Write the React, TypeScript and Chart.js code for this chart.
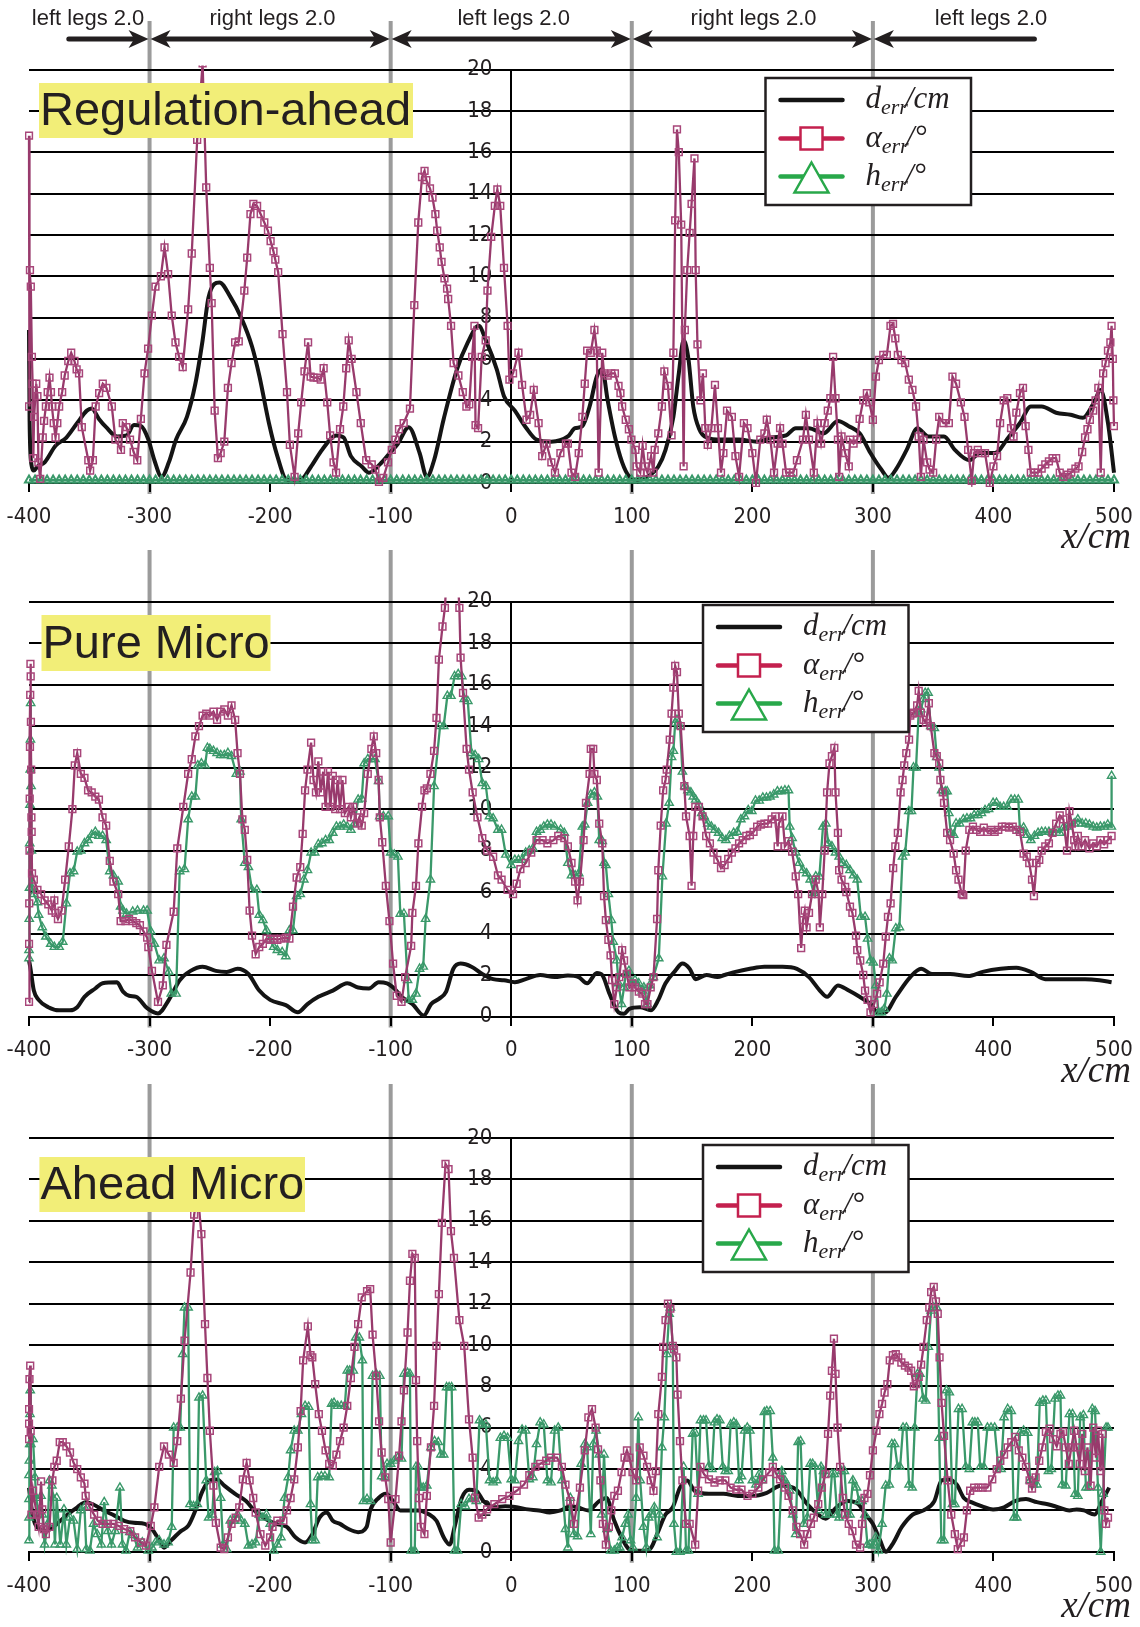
import React, { useEffect, useRef } from 'react';
import { Chart, registerables } from 'chart.js';

Chart.register(...registerables);

type P = [number, number];

// ---------- axes / annotations ----------
const X_MIN = -400;
const X_MAX = 500;
const X_STEP = 100;
const Y_MIN = 0;
const Y_MAX = 20;
const Y_STEP = 2;
const PHASE_BOUNDARIES = [-300, -100, 100, 300];
const PHASE_LABELS = ['left legs 2.0', 'right legs 2.0', 'left legs 2.0', 'right legs 2.0', 'left legs 2.0'];
const PHASE_LABEL_X = [-351, -198, 2, 201, 398];
const PHASE_ARROW_START = -367;
const PHASE_ARROW_END = 434;
const PANEL_TITLES = ['Regulation-ahead', 'Pure Micro', 'Ahead Micro'];
const X_UNIT = 'x/cm';

// ---------- Panel 1: Regulation-ahead ----------
const regD: P[] = [
  [-400, 7.4], [-399.5, 3.0], [-398, 0.9], [-396, 0.6], [-393, 0.8], [-387, 1.0], [-378, 1.8], [-369, 2.2], [-360, 2.9],
  [-352, 3.5], [-348, 3.6], [-342, 3.1], [-336, 2.7], [-327, 2.25], [-319, 2.3], [-313, 2.8], [-307, 2.75], [-301, 2.1],
  [-296, 1.1], [-290, 0.3], [-284, 1.0], [-278, 2.1], [-269, 3.2], [-262, 4.8], [-256, 6.9], [-251, 9.0], [-242, 9.7],
  [-233, 9.0], [-224, 8.0], [-215, 6.6], [-209, 5.2], [-201, 2.9], [-194, 1.3], [-186, 0.15], [-175, 0.15], [-166, 0.8],
  [-157, 1.6], [-145, 2.3], [-139, 2.2], [-133, 1.3], [-124, 0.8], [-118, 0.5], [-109, 0.9], [-100, 1.5], [-94, 1.9],
  [-85, 2.7], [-76, 1.45], [-70, 0.3], [-64, 1.1], [-56, 3.1], [-45, 5.5], [-36, 6.8], [-27, 7.6], [-21, 6.9], [-12, 5.5],
  [-6, 4.2], [3, 3.5], [12, 2.7], [21, 2.1], [33, 2.0], [47, 2.25], [53, 2.65], [59, 2.75], [65, 3.7], [71, 5.15],
  [75.5, 5.5], [80, 4.0], [86, 2.25], [92, 1.0], [98, 0.3], [104, 0.15], [113, 0.3], [122, 0.8], [128, 1.6], [134.5, 3.2],
  [139, 5.3], [143, 6.9], [147, 6.0], [151, 3.7], [156, 2.6], [162, 2.2], [174, 2.1], [189, 2.1], [204, 2.0], [216, 2.2],
  [228, 2.3], [236, 2.65], [247, 2.65], [259, 2.4], [271, 3.0], [280, 2.75], [289, 2.4], [298, 1.45], [307, 0.65],
  [313, 0.25], [319, 0.65], [328, 1.6], [337, 2.65], [346, 2.25], [359, 2.25], [368, 1.6], [380, 1.1], [389, 1.45],
  [401, 1.45], [413, 2.25], [422, 2.9], [431, 3.7], [440, 3.7], [452, 3.4], [464, 3.3], [474, 3.15], [483, 3.85],
  [489, 4.5], [495, 2.9], [500, 0.5],
];

const regA: P[] = [
  [-400, 16.8], [-400, 3.7], [-399.2, 10.3], [-398.5, 9.5], [-397.6, 6.1], [-397, 4.8], [-396.4, 1.2], [-395.8, 3.2],
  [-394, 4.8], [-393, 4.2], [-392.2, 1.0], [-390.7, 0.2], [-388.6, 2.2], [-387.5, 3.0], [-386, 3.7], [-384.5, 4.4],
  [-383, 5.1], [-381.8, 4.4], [-381, 3.7], [-379.5, 2.9], [-378, 2.2], [-376.5, 2.9], [-375, 3.7], [-372.5, 4.4],
  [-370.4, 5.2], [-367.4, 5.9], [-365, 6.3], [-362.3, 5.9], [-360.5, 5.5], [-358.5, 5.3], [-356.2, 2.7], [-350.8, 1.1],
  [-349.3, 0.6], [-347, 1.1], [-344.7, 3.7], [-341.8, 4.35], [-338.8, 4.8], [-335.8, 4.6], [-331.3, 3.7], [-328.3, 2.1],
  [-323.7, 1.6], [-322.2, 2.9], [-319.2, 2.7], [-316.2, 2.1], [-313.2, 1.5], [-310.2, 1.1], [-307.2, 3.1], [-304.2, 5.3],
  [-301.2, 6.5], [-298.1, 8.1], [-295.1, 9.5], [-290.6, 10.0], [-287.6, 11.4], [-284.6, 10.1], [-281.6, 8.1],
  [-278.5, 6.8], [-275.5, 6.1], [-272.5, 5.6], [-268, 8.4], [-265, 11.1], [-260.5, 16.6], [-256, 20.3], [-253, 14.3],
  [-250, 10.4], [-248.5, 8.7], [-246, 3.5], [-243.3, 1.2], [-241, 1.45], [-238, 2.0], [-235, 4.6], [-232, 5.8],
  [-229, 6.8], [-226, 6.85], [-221.4, 9.3], [-219, 10.9], [-216.3, 13.0], [-213.9, 13.5], [-210.8, 13.4], [-207.8, 13.0],
  [-204.8, 12.6], [-201.8, 12.2], [-199.6, 11.7], [-197.2, 11.2], [-195.7, 10.8], [-193.3, 10.2], [-189.7, 7.2],
  [-186, 4.4], [-183.6, 1.85], [-179.7, 0.3], [-176.7, 2.4], [-174.2, 3.9], [-171.5, 5.4], [-168.5, 6.8], [-166.4, 5.15],
  [-164, 5.1], [-161, 5.1], [-158, 5.0], [-155.6, 5.55], [-152.6, 3.9], [-150.2, 2.3], [-147.4, 1.0], [-145.3, 0.5],
  [-142, 2.6], [-139.3, 3.7], [-136.9, 5.55], [-134.8, 6.9], [-132.4, 6.0], [-128.4, 4.4], [-124.8, 2.9], [-120.3, 1.1],
  [-115.7, 0.9], [-112.7, 0.65], [-109.7, 0.05], [-106.1, 0.25], [-102.2, 1.0], [-99.1, 1.6], [-96.1, 2.1], [-93.1, 2.6],
  [-89.2, 2.9], [-84, 3.6], [-80.4, 8.6], [-77.1, 12.6], [-74, 14.8], [-71.9, 15.1], [-70.4, 14.65], [-67.4, 14.25],
  [-65.3, 13.8], [-62.9, 13.0], [-61.4, 12.2], [-59.3, 11.4], [-57.8, 10.7], [-55.4, 9.9], [-53.2, 9.4], [-52.3, 8.9],
  [-49.9, 7.6], [-47.8, 5.8], [-43.8, 5.2], [-40.2, 4.4], [-37.2, 3.7], [-34.8, 3.8], [-32.4, 6.1], [-30.5, 7.6],
  [-29.6, 2.8], [-27.5, 2.65], [-24.5, 6.1], [-21.2, 6.9], [-19.7, 9.3], [-16.6, 11.9], [-13.6, 13.4], [-11.5, 14.2],
  [-9.1, 13.4], [-6, 10.4], [-3, 7.6], [-1.5, 5.0], [1.5, 5.3], [6, 6.3], [9, 4.75], [12.7, 3.06], [15.7, 3.3], [18.7, 4.5],
  [22.7, 2.9], [25.7, 1.3], [29.3, 1.9], [33.3, 1.0], [36.3, 0.5], [40.8, 1.45], [45.4, 1.9], [47, 1.9], [50, 0.5],
  [53, 0.3], [56, 1.45], [59, 3.2], [61, 4.8], [63, 6.4], [66, 6.3], [69, 7.4], [71, 6.4], [72.5, 0.5], [75.5, 6.3],
  [77, 5.3], [80, 5.2], [83, 5.3], [86, 5.3], [89, 4.7], [90.6, 4.35], [92, 3.7], [95, 3.06], [97.6, 2.6], [99.7, 2.1],
  [103, 1.6], [104, 0.8], [107, 0.5], [109, 1.8], [111, 0.8], [113, 0.5], [116, 1.3], [118, 0.5], [119, 1.6], [122, 2.4],
  [125, 3.7], [127, 5.4], [130, 4.7], [133, 2.3], [134.5, 6.3], [136, 12.7], [137.5, 17.1], [139, 16.0], [141, 12.5],
  [143, 0.8], [144, 7.4], [146, 10.3], [148, 12.1], [149.6, 13.5], [152, 15.7], [153, 10.3], [154.5, 6.7], [157, 4.0],
  [159, 5.3], [161, 2.65], [163, 1.85], [166, 2.65], [169, 4.75], [171.5, 2.65], [174, 0.5], [176, 1.45], [179, 3.5],
  [183, 3.2], [186, 1.3], [189, 0.3], [193, 2.9], [196, 2.65], [200, 1.45], [203, 0.0], [206.6, 2.1], [210, 2.4],
  [212, 3.06], [215, 2.1], [218, 0.5], [221, 1.9], [223, 2.65], [225, 1.9], [228, 0.5], [231, 0.5], [234, 0.5], [237, 1.1],
  [242, 2.1], [244.4, 3.3], [247, 2.1], [251, 0.5], [254, 2.9], [257, 1.9], [260, 2.9], [262.6, 3.5], [264.7, 4.1],
  [267, 6.1], [269, 4.1], [271, 2.1], [272, 0.3], [274, 2.25], [277, 1.45], [280, 0.8], [281, 2.1], [284, 1.9], [287, 2.1],
  [289, 3.1], [292, 4.0], [295, 4.35], [297, 3.9], [300, 3.06], [302.5, 5.15], [305, 5.95], [308.6, 6.2], [311.6, 6.2],
  [314.6, 7.6], [316.7, 7.7], [318.6, 7.0], [320.7, 6.2], [323.7, 5.95], [326.8, 5.8], [329.8, 5.0], [332.8, 4.5],
  [335.8, 3.7], [338, 2.25], [339.8, 0.3], [342, 2.1], [345, 1.0], [347, 0.65], [350, 0.5], [352.5, 2.1], [355, 3.2],
  [358.5, 2.9], [363, 2.9], [366, 5.15], [369, 4.8], [373, 3.9], [376, 3.2], [379, 1.6], [382, 0.1], [384, 1.45],
  [387, 1.6], [390, 1.45], [393, 1.45], [397, 0], [400, 0.8], [403, 1.3], [405.5, 2.9], [408.5, 4.0], [411.5, 4.1],
  [414.6, 2.65], [416.7, 2.25], [419, 3.4], [422, 4.35], [424.5, 4.6], [426.7, 2.75], [429, 1.6], [431, 0.5], [434, 0.5],
  [437, 0.5], [440, 0.7], [443, 0.9], [446, 1.05], [449, 1.2], [452, 1.2], [455, 0.5], [458, 0.3], [461.5, 0.4],
  [464.5, 0.5], [468, 0.7], [470.6, 0.8], [473.6, 1.5], [476, 2.2], [478, 2.6], [480, 3.06], [482.7, 3.5], [484.7, 4.0],
  [487, 4.6], [489, 0.5], [491, 5.3], [493, 5.8], [495, 6.4], [497, 6.8], [498, 7.6], [499, 6.0], [499.5, 4.0], [500, 2.75],
];

// h_err stays on the zero line in this run: sample positions and its level
const regHX: number[] = [
  -400, -395, -390, -385, -380, -375, -370, -365, -360, -355, -350, -345, -340, -335, -330, -325, -320, -315, -310, -305,
  -300, -295, -290, -285, -280, -275, -270, -265, -260, -255, -250, -245, -240, -235, -230, -225, -220, -215, -210, -205,
  -200, -195, -190, -185, -180, -175, -170, -165, -160, -155, -150, -145, -140, -135, -130, -125, -120, -115, -110, -105,
  -100, -95, -90, -85, -80, -75, -70, -65, -60, -55, -50, -45, -40, -35, -30, -25, -20, -15, -10, -5,
  0, 5, 10, 15, 20, 25, 30, 35, 40, 45, 50, 55, 60, 65, 70, 75, 80, 85, 90, 95,
  100, 105, 110, 115, 120, 125, 130, 135, 140, 145, 150, 155, 160, 165, 170, 175, 180, 185, 190, 195,
  200, 205, 210, 215, 220, 225, 230, 235, 240, 245, 250, 255, 260, 265, 270, 275, 280, 285, 290, 295,
  300, 305, 310, 315, 320, 325, 330, 335, 340, 345, 350, 355, 360, 365, 370, 375, 380, 385, 390, 395,
  400, 405, 410, 415, 420, 425, 430, 435, 440, 445, 450, 455, 460, 465, 470, 475, 480, 485, 490, 495, 500,
];
const REG_H_LEVEL = 0.14;

// ---------- Panel 2: Pure Micro ----------
const pureD: P[] = [
  [-400, 2.7], [-399, 2.4], [-396, 1.25], [-392, 0.8], [-384, 0.45], [-375, 0.3], [-366, 0.3], [-360, 0.45], [-354, 0.95],
  [-345, 1.35], [-339, 1.6], [-327, 1.65], [-322, 1.2], [-317, 1.0], [-311, 0.95], [-302, 0.4], [-293, 0.15], [-284, 0.8],
  [-275, 1.75], [-266, 2.2], [-256, 2.4], [-245, 2.2], [-236, 2.15], [-227, 2.3], [-218, 2.05], [-209, 1.25], [-200, 0.8],
  [-187, 0.55], [-177, 0.2], [-169, 0.6], [-160, 0.95], [-148, 1.25], [-136, 1.6], [-127, 1.4], [-118, 1.35], [-110, 1.65],
  [-103, 1.6], [-97, 1.35], [-91, 0.95], [-82, 0.6], [-72.5, 0.05], [-66.5, 0.6], [-60, 0.85], [-54, 1.2], [-48, 2.3],
  [-42, 2.55], [-33, 2.4], [-24, 2.05], [-15, 1.8], [-6, 1.75], [3, 1.65], [12, 1.8], [24, 2.0], [36, 1.9], [47, 1.98],
  [56, 1.9], [63, 1.6], [71, 2.1], [75.5, 2.0], [81.5, 1.1], [89, 0.2], [93.6, 0.13], [98, 0.37], [107, 0.45], [116, 0.3],
  [122, 0.8], [128, 1.6], [136, 2.2], [142, 2.55], [148, 2.3], [153, 1.8], [162, 2.0], [171, 1.9], [177, 2.0], [186, 2.15],
  [198, 2.3], [210, 2.4], [225, 2.4], [237, 2.3], [247, 1.9], [256, 1.25], [262, 0.95], [271, 1.5], [280, 1.25],
  [289, 0.95], [298, 0.6], [304, 0.2], [310, 0.2], [319, 0.95], [331, 1.9], [340, 2.3], [349, 2.05], [364, 2.05],
  [379, 1.95], [391, 2.15], [406, 2.3], [419, 2.35], [431, 2.15], [443, 1.8], [458, 1.8], [476, 1.8], [488, 1.75],
  [498, 1.65],
];

const pureA: P[] = [
  [-400, 0.7], [-400, 3.5], [-399.8, 5.45], [-399.6, 8.0], [-399.4, 10.5], [-399.2, 13.0], [-399, 15.5], [-398.8, 17.0],
  [-398.6, 16.4], [-398.4, 14.2], [-398.2, 11.9], [-398, 9.6], [-397.8, 8.9], [-397.5, 6.9], [-396, 6.6], [-393, 6.1],
  [-390, 5.9], [-387, 5.6], [-384, 5.4], [-381, 5.1], [-379, 5.6], [-378, 5.0], [-376, 4.7], [-373, 5.1], [-370, 6.6],
  [-367, 8.2], [-364, 10.0], [-362, 12.1], [-360, 12.7], [-357, 11.7], [-354, 11.5], [-351, 10.9], [-348, 10.8],
  [-345, 10.6], [-342, 10.45], [-339, 9.6], [-336, 9.2], [-333, 7.5], [-330, 6.5], [-326, 5.9], [-324, 4.6], [-320, 4.6],
  [-317, 4.7], [-314, 4.6], [-311, 4.5], [-308, 4.4], [-305, 4.1], [-302, 3.8], [-301, 3.35], [-298, 2.2], [-293, 0.7],
  [-289, 1.5], [-286, 3.45], [-280, 5.05], [-277, 8.1], [-272, 10.1], [-268, 11.7], [-265, 12.4], [-262, 13.5],
  [-259, 14.0], [-256, 14.5], [-253, 14.6], [-250, 14.5], [-247, 14.7], [-244, 14.3], [-241, 14.7], [-238, 14.8],
  [-235, 14.5], [-232, 15.0], [-229, 14.3], [-227, 12.7], [-225, 11.7], [-223, 9.5], [-221, 9.0], [-219, 7.55],
  [-217, 5.1], [-215, 3.9], [-212, 3.0], [-209, 3.35], [-206, 3.5], [-203, 3.75], [-200, 3.7], [-197, 3.75], [-194, 3.7],
  [-191, 3.75], [-187, 3.8], [-184, 3.75], [-181, 5.3], [-178, 6.7], [-175, 7.2], [-173, 8.8], [-171, 10.9], [-169, 11.9],
  [-166, 13.2], [-164, 11.4], [-162, 10.8], [-160, 12.3], [-158, 10.8], [-156, 11.8], [-154, 10.1], [-152, 11.8],
  [-150, 10.1], [-148, 11.6], [-146, 10.0], [-144, 11.4], [-142, 10.0], [-140, 11.4], [-138, 9.8], [-135, 10.1],
  [-133, 9.6], [-131, 10.1], [-128, 9.3], [-126, 9.6], [-124, 9.2], [-122, 9.8], [-119, 11.7], [-116, 12.9], [-114, 13.5],
  [-112, 12.7], [-110, 11.4], [-109, 9.6], [-107, 8.4], [-104, 6.3], [-101, 4.6], [-98, 2.55], [-95, 1.0], [-91, 0.7],
  [-88, 1.9], [-83, 3.4], [-82, 5.0], [-79, 6.3], [-77, 8.35], [-74, 10.1], [-72, 10.9], [-70, 11.0], [-67, 11.7],
  [-64, 12.8], [-62, 14.4], [-60, 17.2], [-57, 18.8], [-55, 19.7], [-49, 26.0], [-43, 19.7], [-42, 17.3], [-40, 15.6],
  [-37, 12.9], [-35, 11.9], [-32, 10.8], [-28, 9.6], [-24, 8.6], [-20, 8.0], [-15, 7.7], [-11, 6.8], [-8, 6.6], [-3, 6.1],
  [1.5, 5.9], [4.5, 6.4], [7.6, 7.1], [12, 7.4], [16.6, 7.9], [21, 8.5], [26, 8.5], [30, 8.35], [35, 8.5], [39, 8.7],
  [44, 8.6], [47, 8.2], [50, 7.4], [53, 6.5], [55, 5.6], [57, 6.5], [60, 8.5], [62, 10.3], [65, 11.7], [66, 12.9],
  [68, 12.9], [69, 11.7], [71, 11.4], [73, 9.3], [75.5, 8.35], [77, 5.8], [78.5, 4.65], [80.6, 3.7], [82.4, 2.95],
  [83.7, 1.75], [85.5, 0.6], [87.6, 1.4], [89.7, 1.9], [92, 3.2], [93.6, 2.7], [95.8, 2.05], [98, 1.4], [100.6, 1.6],
  [102.7, 1.4], [105.8, 1.2], [108.8, 1.1], [111, 0.6], [113, 0.6], [115.7, 1.4], [118, 1.9], [121, 4.7], [122, 7.05],
  [124, 9.2], [126, 10.9], [128, 11.4], [129, 11.9], [131.5, 13.35], [133, 14.6], [134.5, 15.85], [136, 16.9],
  [137.5, 16.6], [139, 14.6], [140.6, 14.0], [143.6, 11.1], [145, 9.65], [148, 8.7], [149.6, 6.3], [151, 8.7],
  [152.7, 10.1], [155.7, 10.1], [158.7, 9.65], [161.7, 8.7], [164.8, 8.35], [167.8, 7.9], [171, 7.55], [174, 7.15],
  [177, 7.3], [180, 7.6], [183, 7.9], [186, 8.1], [189, 8.35], [192, 8.5], [195, 8.7], [198, 8.75], [201, 8.9],
  [204, 9.15], [207, 9.25], [210, 9.3], [213, 9.3], [216, 9.5], [219, 9.65], [221, 8.2], [222, 9.3], [225, 9.65],
  [227, 8.2], [230, 8.45], [233, 7.95], [236, 6.75], [238, 5.9], [240.5, 3.3], [242, 4.65], [243.5, 5.1], [245, 4.3],
  [247, 5.0], [249.5, 5.9], [252.6, 6.6], [255, 5.9], [256, 4.3], [258, 5.9], [260, 8.0], [262, 10.8], [264, 12.2],
  [266, 12.55], [268, 12.95], [269, 10.8], [271, 8.85], [272, 7.05], [274, 6.6], [277, 6.25], [278, 6.0], [281, 5.3],
  [283, 5.0], [286, 3.9], [287, 3.2], [289.5, 2.7], [292, 2.0], [293.5, 1.25], [295.6, 0.8], [298, 0.2], [301, 0.6],
  [303.5, 1.1], [305.6, 1.65], [308.6, 2.55], [310.7, 3.85], [312.5, 4.8], [314.7, 5.45], [316.8, 7.15], [318.6, 8.2],
  [320.7, 8.85], [323, 10.8], [324.6, 11.4], [326, 12.1], [327.7, 12.7], [330, 13.35], [331, 14.5], [333, 14.6],
  [334, 14.65], [336.7, 15.0], [338, 15.7], [339.8, 14.65], [342, 14.3], [344, 14.15], [346.4, 15.1], [348, 14.0],
  [351, 12.7], [353, 12.55], [355, 12.2], [356, 11.4], [358, 10.8], [359, 10.3], [361.6, 8.85], [364, 8.5], [367, 7.85],
  [369, 7.05], [371, 6.6], [373.7, 5.9], [375, 5.85], [377, 8.0], [380, 9.0], [383, 9.15], [386, 9.0], [389, 8.9],
  [392, 9.1], [395, 8.9], [398, 9.0], [401, 8.9], [404, 9.0], [407, 9.15], [410, 9.15], [413, 9.1], [416, 9.15],
  [419, 9.0], [422, 8.9], [425, 7.85], [427.6, 7.7], [429.7, 7.4], [432, 6.6], [433.6, 5.8], [435.7, 7.4], [438, 7.55],
  [440, 8.0], [443, 8.2], [446, 8.35], [449, 8.85], [452, 9.3], [455, 9.7], [458, 9.5], [461, 8.0], [463, 9.9],
  [465, 9.3], [467, 8.5], [468, 8.2], [470, 8.7], [473, 8.2], [476, 8.5], [479.6, 8.1], [482.7, 8.35], [485.7, 8.2],
  [488.7, 8.5], [491.8, 8.3], [494.8, 8.5], [498, 8.7],
];

const pureH: P[] = [
  [-400, 2.8], [-400, 3.2], [-399.8, 4.7], [-399.6, 6.2], [-399.4, 8.35], [-399.2, 10.2], [-399, 11.9], [-398.8, 13.35],
  [-398.6, 15.1], [-398.3, 11.1], [-398, 8.0], [-397.5, 6.2], [-396, 5.9], [-393, 5.5], [-392, 4.9], [-389, 4.3],
  [-386, 3.85], [-382, 3.5], [-379, 3.35], [-375, 3.35], [-372, 3.6], [-369, 5.45], [-366, 6.9], [-363, 7.0], [-360, 7.95],
  [-357, 8.0], [-354, 8.35], [-351, 8.5], [-348, 8.75], [-345, 8.9], [-342, 8.7], [-339, 8.7], [-336, 8.5], [-333, 7.0],
  [-330, 6.8], [-326, 6.5], [-324, 5.3], [-322, 5.1], [-319, 4.95], [-314, 5.05], [-310, 5.1], [-305, 5.1], [-302, 5.1],
  [-299, 4.1], [-296, 3.5], [-292, 2.7], [-288, 2.8], [-284, 2.15], [-282, 1.1], [-278, 1.1], [-275, 7.0], [-271, 7.1],
  [-268, 9.5], [-265, 10.6], [-262, 10.6], [-260, 12.1], [-257, 12.2], [-254, 12.1], [-252, 12.95], [-250, 12.9],
  [-247, 12.8], [-244, 12.7], [-241, 12.6], [-238, 12.6], [-235, 12.7], [-232, 12.55], [-228, 11.7], [-225, 11.8],
  [-224, 9.5], [-221, 7.4], [-218, 7.2], [-215, 6.1], [-211, 6.1], [-209, 4.9], [-206, 4.65], [-203, 4.15], [-200, 3.7],
  [-197, 3.35], [-194, 3.2], [-190, 3.1], [-187, 2.9], [-184, 4.15], [-181, 4.15], [-178, 5.8], [-175, 5.9], [-172, 6.6],
  [-169, 7.05], [-166, 7.9], [-163, 7.9], [-160, 8.3], [-157, 8.35], [-154, 8.5], [-151, 8.5], [-148, 8.85], [-145, 9.15],
  [-142, 9.15], [-139, 9.25], [-136, 9.15], [-133, 9.0], [-130, 9.3], [-127, 10.45], [-124, 10.5], [-122, 12.2],
  [-119, 12.4], [-116, 12.4], [-113, 12.4], [-110, 11.35], [-109, 9.65], [-106, 9.65], [-102, 9.65], [-100, 7.9],
  [-97, 7.8], [-94, 7.7], [-92, 4.95], [-89, 4.95], [-86, 1.75], [-85, 0.8], [-82, 0.8], [-79, 1.1], [-76, 2.3],
  [-73, 2.4], [-71, 4.7], [-67, 6.6], [-64, 11.1], [-59, 14.0], [-56, 14.0], [-53, 15.45], [-50, 15.45], [-47, 16.4],
  [-44, 16.5], [-41, 16.4], [-39, 15.3], [-36, 15.2], [-33, 12.7], [-30, 12.6], [-27, 12.4], [-24, 11.25], [-21, 11.1],
  [-18, 9.65], [-15, 9.55], [-11, 9.0], [-8, 9.0], [-4.5, 7.8], [0, 7.3], [3, 7.55], [6, 7.55], [9, 7.55], [12, 7.9],
  [15, 8.0], [18, 8.1], [21, 8.9], [24, 9.0], [27, 9.15], [30, 9.25], [33, 9.25], [36, 9.15], [41, 9.0], [44, 8.85],
  [47, 7.4], [50, 6.8], [53, 6.8], [56, 6.9], [59, 9.15], [61, 9.25], [63.4, 10.3], [66, 10.7], [69, 10.8], [71.5, 10.6],
  [73, 8.5], [75.5, 8.45], [77, 7.4], [78.5, 7.3], [80.6, 5.9], [83, 4.65], [84.6, 3.6], [87.6, 2.7], [89, 1.6],
  [91.5, 0.6], [93.6, 1.4], [95, 2.05], [97.6, 2.2], [99.7, 1.6], [102.7, 1.75], [105.8, 1.6], [108.8, 1.25], [110, 1.4],
  [112.7, 0.6], [114.8, 1.5], [117.9, 1.9], [122.4, 2.8], [125.4, 6.75], [128.5, 9.3], [131, 10.3], [133, 12.5],
  [134.5, 12.8], [136, 14.15], [137.5, 14.3], [140, 14.0], [142, 11.8], [144, 11.1], [146.6, 10.9], [149, 10.8],
  [151, 10.6], [153, 10.45], [155.7, 10.2], [158, 9.8], [160, 9.65], [163, 9.3], [166, 9.15], [169, 9.0], [172, 8.85],
  [175, 8.6], [178, 8.5], [181, 8.7], [184.5, 8.85], [187.5, 8.9], [190.5, 9.5], [193.5, 9.65], [196.6, 9.95],
  [199.6, 9.9], [202.6, 10.4], [205.7, 10.4], [208.7, 10.55], [211.7, 10.55], [214.7, 10.6], [217.8, 10.7],
  [220.8, 10.85], [224, 10.85], [227, 10.9], [230, 10.9], [231, 9.15], [233, 8.6], [236, 7.9], [239, 7.4], [242, 7.05],
  [245, 6.9], [248, 6.6], [251, 5.95], [252.6, 6.75], [255.6, 6.75], [258.6, 9.15], [261, 9.3], [263, 8.35], [266, 8.2],
  [269, 7.9], [272, 7.7], [275, 7.4], [278, 7.3], [281, 7.05], [284, 6.8], [287, 6.6], [290, 4.8], [293.5, 4.8],
  [295.6, 3.75], [298, 2.7], [300.4, 2.6], [302.5, 1.5], [304.7, 0.2], [307, 0.2], [309.5, 0.37], [311.6, 1.1],
  [313.7, 2.8], [316, 2.7], [319, 4.25], [322, 4.3], [324.6, 7.7], [326.8, 7.9], [329.8, 9.9], [332, 9.9], [333.7, 12.0],
  [335.8, 12.0], [338, 14.7], [339.8, 14.8], [342, 15.3], [343.4, 15.6], [345.8, 15.6], [348, 14.0], [351, 13.9],
  [353, 12.5], [355, 12.0], [357, 10.9], [360, 10.85], [361.6, 10.85], [363, 9.8], [364.6, 8.85], [367, 8.75], [369, 9.3],
  [372, 9.3], [375, 9.5], [378, 9.55], [381, 9.55], [384, 9.7], [387, 9.7], [390, 9.8], [393, 9.95], [396, 10.0],
  [399.7, 10.3], [402.5, 10.3], [405.5, 10.1], [408.5, 10.1], [411.5, 10.1], [414.6, 10.45], [417.6, 10.45],
  [420.6, 10.45], [422, 9.0], [425, 9.1], [428, 8.75], [431, 8.5], [434, 8.7], [437, 8.85], [440, 8.9], [443, 8.9],
  [446, 8.9], [449, 8.85], [452, 9.0], [455, 8.85], [458, 9.1], [461, 9.15], [464, 9.3], [467, 9.3], [470, 9.5],
  [473.6, 9.3], [476.6, 9.3], [479.6, 9.25], [482.7, 9.15], [485.7, 9.1], [488.7, 9.15], [491.8, 9.15], [494.8, 9.25],
  [497.8, 9.15], [498, 11.6],
];

// ---------- Panel 3: Ahead Micro ----------
const aheadD: P[] = [
  [-400, 3.1], [-398, 2.15], [-395, 1.35], [-391, 1.1], [-386, 1.0], [-380, 1.2], [-374, 1.5], [-368, 1.8], [-360, 2.15],
  [-353, 2.4], [-347, 2.3], [-338, 2.0], [-329, 1.75], [-321, 1.5], [-313, 1.4], [-304, 1.35], [-298, 1.1], [-292, 0.55],
  [-288, 0.2], [-282, 0.55], [-274, 1.0], [-268, 1.25], [-262, 2.0], [-256, 2.95], [-250, 3.45], [-244, 3.5],
  [-238, 3.2], [-229, 2.8], [-220, 2.45], [-213, 2.0], [-204, 1.6], [-195, 1.35], [-186, 1.2], [-179, 0.7], [-171, 0.45],
  [-165, 0.85], [-159, 1.65], [-153, 1.9], [-148, 1.5], [-142, 1.35], [-135, 1.1], [-127, 0.95], [-120, 1.2],
  [-117, 2.0], [-110, 2.6], [-104, 2.8], [-98, 2.45], [-92, 2.0], [-86, 2.0], [-77, 2.0], [-68, 1.8], [-62, 1.5],
  [-56, 0.7], [-51, 0.35], [-47, 1.2], [-41, 2.6], [-35, 3.0], [-29, 2.95], [-23, 2.45], [-14, 2.15], [-5, 2.2],
  [4.5, 2.15], [14, 2.05], [23, 2.0], [32, 1.9], [41, 2.0], [49, 2.2], [55, 2.15], [64, 2.0], [73, 2.45], [79, 2.6],
  [85.5, 1.5], [91.5, 0.7], [97.6, 0.13], [103.6, 0.05], [110, 0.05], [116, 0.2], [122, 1.0], [128, 1.8], [134, 2.15],
  [140, 3.1], [146, 3.45], [152, 2.95], [164, 2.8], [176, 2.8], [188, 2.7], [200, 2.7], [212, 2.85], [224, 3.2],
  [236.5, 3.0], [245.6, 2.3], [254.7, 1.8], [260.7, 1.6], [269.8, 2.15], [279, 2.45], [288, 2.3], [294, 1.8], [300, 1.35],
  [306, 0.55], [310.6, 0], [316.6, 0.4], [324, 1.2], [333, 1.8], [342, 2.0], [351, 2.45], [357, 3.45], [363, 3.5],
  [369.5, 3.25], [375.5, 2.6], [381.6, 2.4], [390.6, 2.2], [399.7, 2.05], [408.8, 2.15], [417.8, 2.45], [427, 2.55],
  [436, 2.4], [445, 2.3], [454, 2.15], [463, 2.0], [469, 2.05], [475, 2.0], [484, 1.8], [490, 2.45], [496, 3.1],
];

const aheadA: P[] = [
  [-400, 5.45], [-400, 6.2], [-400, 6.9], [-399.6, 8.35], [-399, 9.0], [-398.6, 5.85], [-398, 1.8], [-396.6, 2.95],
  [-393.6, 1.8], [-392, 1.2], [-390, 3.4], [-389, 2.05], [-387.5, 1.1], [-386, 0.85], [-383, 1.2], [-380.6, 3.45],
  [-379, 4.1], [-377, 4.4], [-374.5, 5.3], [-372, 5.3], [-369, 5.1], [-366, 4.8], [-363, 4.3], [-360, 4.0], [-357, 3.6],
  [-354, 3.3], [-353, 2.7], [-350, 2.2], [-346, 1.8], [-343, 1.5], [-339, 1.35], [-334.6, 1.35], [-330, 1.35],
  [-325.5, 1.25], [-321, 1.1], [-316, 1.0], [-312, 0.7], [-307, 0.45], [-303, 0.3], [-299, 1.25], [-296, 2.15],
  [-292, 4.1], [-288, 5.1], [-284, 4.7], [-280, 4.3], [-277, 5.35], [-274, 7.4], [-271, 10.2], [-266, 13.5], [-263, 16.3],
  [-260, 17.3], [-257, 15.35], [-254, 11.0], [-252, 8.4], [-250, 5.85], [-247, 3.2], [-245, 1.4], [-241, 0.2],
  [-238, 0.13], [-235, 0.7], [-232, 1.35], [-228.6, 1.65], [-225.6, 2.15], [-222.6, 3.5], [-219.5, 4.3], [-217, 3.45],
  [-214, 2.6], [-212, 1.9], [-208, 0.85], [-204, 0.3], [-200, 0.7], [-198, 1.2], [-194, 1.5], [-189, 1.5], [-186, 2.0],
  [-183, 2.6], [-180, 3.5], [-177, 5.05], [-174.7, 6.8], [-172.6, 9.25], [-168.7, 10.9], [-166.5, 9.5], [-165, 9.4],
  [-162.6, 8.1], [-159.6, 6.65], [-157, 5.85], [-154, 4.9], [-151, 4.25], [-148, 4.15], [-145, 4.7], [-142, 5.35],
  [-139, 6.0], [-136, 7.05], [-133, 8.4], [-130, 9.9], [-127, 11.0], [-124, 12.3], [-119.6, 12.6], [-117, 12.7],
  [-115, 10.5], [-112, 8.5], [-109.6, 6.3], [-107.5, 4.8], [-104.5, 3.6], [-102, 2.55], [-100, 0.45], [-96, 2.55],
  [-93, 4.65], [-91, 6.3], [-89, 7.8], [-86, 10.6], [-84, 13.1], [-82, 14.4], [-80, 14.2], [-79, 8.3], [-78, 5.35],
  [-76.5, 2.6], [-75, 1.2], [-72, 0.85], [-70, 2.7], [-66.6, 5.05], [-64, 7.05], [-62, 9.95], [-60, 12.45], [-57.5, 15.9],
  [-54.5, 18.75], [-52, 18.5], [-50, 15.5], [-47.5, 14.2], [-43, 11.2], [-39, 9.95], [-35, 6.4], [-32, 4.55], [-30, 2.6],
  [-27, 1.65], [-24, 1.8], [-20, 2.05], [-14, 2.3], [-7.5, 2.55], [-1.5, 2.7], [4.5, 2.95], [10.6, 3.25], [15, 3.7],
  [20, 4.1], [24, 4.25], [29, 4.4], [33, 4.55], [38, 4.55], [42, 4.1], [45, 3.25], [49, 2.45], [52, 1.35], [57, 3.1],
  [61, 4.9], [64, 6.5], [67, 6.9], [70, 6.0], [72, 4.95], [74, 3.45], [76, 1.35], [78.5, 0.35], [81, 1.2], [83, 2.0],
  [85.5, 2.7], [88.5, 2.95], [91.5, 3.85], [94, 4.55], [96, 4.9], [98, 4.55], [100.6, 3.85], [103.6, 3.45], [106.6, 5.05],
  [109.7, 4.65], [112.7, 4.1], [115.7, 3.45], [118, 2.95], [120, 3.9], [122, 6.65], [125, 8.45], [126, 9.9], [128, 11.2],
  [130, 12.0], [132, 11.75], [134, 9.95], [135, 9.8], [137, 9.4], [138, 7.6], [140, 5.35], [142, 3.45], [145, 1.35],
  [148, 1.35], [152.6, 0.35], [155, 2.95], [157, 4.1], [160, 3.75], [164, 3.5], [168.6, 3.35], [173, 3.45], [177.6, 3.45],
  [182, 3.1], [186.7, 3.0], [191, 3.0], [196, 2.7], [200, 2.8], [205, 3.1], [209, 3.5], [214, 3.85], [217, 4.1],
  [220, 3.75], [223, 3.5], [227, 3.1], [230, 2.7], [233.5, 2.0], [236.5, 1.2], [239.6, 0.85], [243, 0.35], [245.6, 0.85],
  [248.6, 1.35], [251, 1.65], [254.7, 2.3], [257.7, 3.1], [260.7, 3.75], [262.8, 5.7], [264.6, 7.55], [266, 8.75],
  [267.7, 10.3], [269, 8.6], [270.7, 6.0], [272.8, 4.1], [275, 2.6], [277, 1.8], [280, 1.35], [283, 1.0], [286, 0.35],
  [289.4, 0.2], [291, 1.35], [293, 2.6], [295.5, 2.8], [297.6, 3.7], [300, 4.9], [303, 5.85], [305.4, 6.65],
  [307.6, 7.15], [309.7, 7.7], [312, 8.1], [314, 9.25], [316.6, 9.5], [319, 9.55], [321, 9.4], [323.6, 9.15],
  [326.6, 9.0], [329.6, 8.9], [331.7, 8.75], [334, 8.0], [335.6, 8.1], [338, 8.45], [340, 9.05], [342, 9.9],
  [344.7, 11.2], [346.8, 11.8], [348.3, 12.55], [350.5, 12.8], [352.3, 12.1], [353.8, 11.5], [355.3, 9.4], [357, 7.2],
  [359, 5.6], [362, 3.45], [365, 1.8], [368, 0.85], [370.4, 0.13], [373, 0.45], [375.5, 0.7], [378, 2.0], [380.7, 2.95],
  [384, 3.1], [387.6, 3.1], [391, 3.1], [395, 3.1], [399, 3.5], [402.7, 4.0], [405.7, 4.4], [408.8, 4.7], [411.8, 5.05],
  [414.8, 5.3], [418, 5.55], [421, 4.9], [424, 4.55], [427, 4.1], [430, 3.45], [432, 3.05], [435, 3.6], [438, 4.4],
  [440.5, 5.05], [443.5, 5.8], [446.5, 5.95], [449.5, 5.45], [452.5, 5.1], [455.6, 5.7], [457.7, 5.8], [460, 5.05],
  [462.5, 4.25], [464.6, 5.05], [467, 5.85], [469, 5.05], [471.6, 4.25], [473.7, 5.7], [475.8, 3.9], [478, 5.05],
  [480.6, 3.2], [482.8, 6.0], [485, 4.55], [486.7, 5.85], [488.8, 3.9], [490.4, 5.7], [492, 2.0], [493.4, 1.35],
  [495, 1.65],
];

const aheadH: P[] = [
  [-400, 0.55], [-400, 1.65], [-400, 2.55], [-400, 3.7], [-399.7, 4.4], [-399.4, 5.2], [-399.2, 6.65], [-399, 7.8],
  [-398.5, 5.2], [-396.7, 5.45], [-395, 3.6], [-394, 2.6], [-392, 1.8], [-390, 2.7], [-389, 1.8], [-387, 0.35],
  [-384.5, 1.35], [-383, 3.45], [-381, 3.2], [-380, 2.6], [-378.5, 0.35], [-377, 2.6], [-374, 0.35], [-371, 2.05],
  [-369, 0.35], [-366, 1.65], [-363, 1.5], [-360, 0.13], [-357, 2.0], [-354, 2.15], [-352.5, 0.13], [-349.5, 0.05],
  [-346.5, 1.35], [-343.5, 0.85], [-340, 0.35], [-337.6, 2.4], [-334.6, 1.0], [-331.6, 0.35], [-328.5, 1.0],
  [-324.6, 3.1], [-322.5, 0.35], [-319.5, 0.05], [-316.4, 0.95], [-313.4, 0.8], [-310, 0.2], [-306, 0.45], [-301, 0.05],
  [-298, 0.2], [-295, 0.45], [-292, 0.55], [-288, 0.35], [-284.6, 0.45], [-281.6, 1.2], [-280, 6.0], [-277, 6.0],
  [-274.6, 6.0], [-272.5, 9.55], [-271, 11.8], [-268, 11.8], [-266.5, 2.3], [-263.5, 2.2], [-260.4, 2.3], [-259, 7.45],
  [-256, 7.55], [-253, 3.45], [-251, 1.65], [-248, 1.8], [-246, 3.85], [-243.7, 3.9], [-241, 2.6], [-239, 0.35],
  [-236, 0.13], [-233, 1.5], [-230, 1.5], [-227, 1.8], [-224, 1.5], [-221, 1.35], [-218, 0.3], [-215, 0.35], [-212, 0.45],
  [-209, 1.8], [-206, 1.65], [-203, 1.8], [-200, 1.35], [-197, 0.05], [-194, 0.35], [-191, 0.7], [-188, 2.6], [-185, 3.6],
  [-183, 4.9], [-180, 5.85], [-177, 5.85], [-174, 6.65], [-171, 7.05], [-168, 7.0], [-166.5, 2.3], [-165, 0.55],
  [-162.6, 0.55], [-160.5, 3.6], [-157.5, 3.65], [-154.5, 3.65], [-151, 3.6], [-149, 7.15], [-147, 7.2], [-144, 7.05],
  [-141, 7.05], [-138, 7.05], [-136, 8.75], [-134, 8.75], [-131, 8.75], [-129, 10.35], [-126, 10.35], [-123.5, 9.25],
  [-122.6, 2.45], [-119.6, 2.55], [-116.6, 2.45], [-115, 8.5], [-112, 8.6], [-109, 8.5], [-107.5, 3.65], [-105, 3.6],
  [-103, 4.25], [-100, 4.25], [-97, 4.4], [-94, 4.55], [-91, 4.5], [-89, 8.6], [-86, 8.65], [-84, 8.6], [-83, 0.05],
  [-80, 0.05], [-79, 4.1], [-77, 4.1], [-75, 3.1], [-73, 3.1], [-70, 3.2], [-66.6, 5.05], [-63.6, 5.35], [-60.5, 5.3],
  [-58.4, 4.7], [-56, 4.7], [-53.6, 7.95], [-51.5, 7.95], [-49.4, 7.95], [-47, 0.05], [-44.5, 0.05], [-41.5, 2.3],
  [-38, 2.2], [-35, 2.55], [-32, 2.6], [-29, 2.45], [-26.3, 6.35], [-24, 6.15], [-21, 6.15], [-18, 3.45], [-15, 3.35],
  [-12, 3.45], [-9, 5.5], [-6, 5.6], [-3, 5.5], [0, 3.5], [3, 3.45], [6, 5.35], [9, 5.9], [12, 5.85], [15, 3.5], [18, 3.6],
  [21, 5.2], [24, 6.25], [27, 6.15], [30, 3.45], [33, 3.35], [36, 5.85], [39, 6.0], [42, 3.45], [45, 1.1], [47, 0.2],
  [49, 2.6], [52, 0.85], [55, 0.75], [58, 4.25], [61, 5.2], [63, 5.05], [66, 0.85], [68, 5.2], [70.4, 5.85], [73, 4.7],
  [75, 1.8], [77, 4.7], [79.5, 1.1], [82.5, 0.05], [85.5, 0.05], [88, 0.2], [90, 0.2], [92, 0.7], [94.6, 1.35], [97, 1.8],
  [99, 0.55], [101, 0.2], [103.6, 2.6], [105.4, 6.5], [107, 3.45], [109.7, 1.2], [112, 0.2], [114, 1.65], [116, 1.8],
  [118.7, 2.15], [121, 0.7], [123, 1.8], [125, 5.05], [127, 6.5], [129, 9.55], [131, 11.5], [132, 11.8], [134, 9.9],
  [135, 1.35], [137, 0], [140, 0], [143, 4.1], [145, 0.05], [147, 0.05], [150.5, 5.7], [152.6, 5.75], [155, 2.8],
  [157, 6.35], [159.5, 6.35], [161.6, 6.35], [164, 4.15], [166.5, 4.0], [168.6, 6.25], [170.7, 6.4], [173, 6.35],
  [175.5, 4.1], [177.6, 3.9], [180, 3.9], [182, 6.15], [184.6, 6.25], [186.7, 6.15], [189, 3.45], [191, 3.65],
  [193.6, 5.85], [195.8, 6.0], [198, 5.85], [200, 3.45], [203, 3.25], [205.7, 3.75], [208, 3.45], [210, 6.75], [212, 6.8],
  [214.8, 6.8], [217, 4.55], [218.4, 0.05], [221.5, 0.05], [224.5, 3.9], [227, 3.45], [229, 3.25], [231, 2.95],
  [233.5, 1.8], [236, 0.85], [238, 5.3], [240, 5.35], [242.6, 1.35], [245.6, 1.65], [248, 4.25], [250, 4.25], [252, 4.1],
  [254.7, 2.0], [257, 4.1], [259, 3.9], [261, 1.8], [263.7, 1.8], [266, 3.75], [268, 3.75], [270.4, 1.8], [272, 1.65],
  [274, 3.9], [276.4, 3.9], [278.9, 1.8], [281, 1.8], [283.4, 3.45], [286.4, 3.1], [288.5, 2.45], [291, 2.45],
  [293.4, 1.8], [295.5, 0.35], [297.6, 0.35], [300, 0.3], [302.4, 0.7], [304.5, 0.05], [307.6, 1.35], [310.6, 3.2],
  [313.6, 3.25], [315.7, 5.2], [318, 5.2], [320.5, 4.1], [322.6, 4.1], [325, 6.0], [327.8, 6.0], [330, 3.25],
  [332.6, 3.1], [334.7, 6.0], [337, 8.6], [339, 8.6], [341.7, 7.4], [343.8, 7.3], [346, 9.9], [348.3, 11.65],
  [350.5, 11.8], [352.9, 11.8], [355, 5.5], [356.8, 0.55], [359, 0.55], [361, 7.8], [363.4, 7.7], [366, 2.3], [368, 2.3],
  [371, 6.9], [374, 6.9], [377, 4.1], [380, 4.0], [382.5, 6.25], [384.6, 6.25], [387, 6.25], [389, 4.1], [392, 4.1],
  [395, 6.0], [398, 6.0], [401, 6.0], [404, 4.1], [406.3, 4.0], [408.8, 6.5], [411.8, 6.9], [414.8, 6.8], [417, 1.65],
  [419.3, 1.65], [422, 5.75], [425, 5.85], [428.4, 5.75], [430.4, 3.45], [433, 3.25], [436, 3.25], [438.4, 7.2],
  [441, 7.3], [443.5, 7.3], [445.6, 3.9], [448, 4.0], [451, 7.4], [453.5, 7.55], [455.6, 7.55], [457, 3.25], [460, 3.2],
  [463, 6.65], [465.6, 6.65], [467.7, 2.8], [470, 2.7], [472, 6.5], [474.6, 6.6], [476.7, 3.1], [479, 3.1], [482, 6.9],
  [484.3, 6.8], [486.7, 3.1], [489, 0], [491, 2.8], [493.4, 6.0], [495, 6.0],
];

// ---------- styling ----------
const D_COLOR = '#141414';
const A_COLOR = '#983a6c';
const A_MARK = '#a8467a';
const H_COLOR = '#3a996a';
const LEG_A = '#c4204e';
const LEG_H = '#28a84a';
const INK = '#231f20';
const GRAY = '#9b9b9b';
const TITLE_BG = '#f2ee78';
const AXIS_FONT = "'DejaVu Sans Condensed', 'Liberation Sans Narrow', sans-serif";
const SANS = "'Liberation Sans', Arial, sans-serif";
const SERIF = "'Liberation Serif', 'Times New Roman', serif";
const Y_LABEL_GAP = '\u2007 '; // keeps y labels clear of the centred axis

type Box = { x: number; y: number; w: number; h: number };
interface PanelSpec {
  top: number;
  height: number;
  areaTop: number; // absolute page y of value 20
  areaBottom: number; // absolute page y of value 0
  grayTop: number; // absolute page y where phase lines start
  title: string;
  titleBox: Box;
  legend: { x: number; y: number };
  arrows: boolean;
  d: P[];
  a: P[];
  h: P[];
  hRadius: number;
  hBorder: number;
}

const AREA_LEFT = 29;
const AREA_RIGHT = 1114;
const PAGE_W = 1140;

const toXY = (arr: P[]) => arr.map(([x, y]) => ({ x, y }));

function drawArrowHead(ctx: CanvasRenderingContext2D, tipX: number, y: number, dir: number) {
  const L = 20;
  const W = 9;
  ctx.beginPath();
  ctx.moveTo(tipX, y);
  ctx.lineTo(tipX - dir * L, y - W);
  ctx.lineTo(tipX - dir * L * 0.72, y);
  ctx.lineTo(tipX - dir * L, y + W);
  ctx.closePath();
  ctx.fill();
}

function drawSubText(ctx: CanvasRenderingContext2D, x: number, y: number, main: string, sub: string, tail: string) {
  ctx.textAlign = 'left';
  ctx.textBaseline = 'alphabetic';
  ctx.fillStyle = INK;
  ctx.font = `italic 31px ${SERIF}`;
  ctx.fillText(main, x, y);
  let cx = x + ctx.measureText(main).width;
  ctx.font = `italic 22px ${SERIF}`;
  ctx.fillText(sub, cx, y + 6);
  cx += ctx.measureText(sub).width - 3;
  ctx.font = `italic 31px ${SERIF}`;
  ctx.fillText(tail, cx, y);
}

function makeDecorPlugin(spec: PanelSpec) {
  return {
    id: 'panelDecor',
    beforeDraw(chart: any) {
      const { ctx, chartArea, scales } = chart;
      const xs = scales.x;
      ctx.save();
      ctx.strokeStyle = GRAY;
      ctx.lineWidth = 4;
      for (const b of PHASE_BOUNDARIES) {
        const px = xs.getPixelForValue(b);
        ctx.beginPath();
        ctx.moveTo(px, spec.grayTop - spec.top);
        ctx.lineTo(px, chartArea.bottom + 11);
        ctx.stroke();
      }
      ctx.restore();
    },
    afterDatasetsDraw(chart: any) {
      const { ctx } = chart;
      const t = spec.top;
      ctx.save();
      // title box
      const tb = spec.titleBox;
      ctx.fillStyle = TITLE_BG;
      ctx.fillRect(tb.x, tb.y - t, tb.w, tb.h);
      ctx.fillStyle = INK;
      ctx.font = `47px ${SANS}`;
      ctx.textAlign = 'left';
      ctx.textBaseline = 'middle';
      ctx.fillText(spec.title, tb.x + 1, tb.y - t + tb.h / 2 + 2);

      // legend
      const lx = spec.legend.x;
      const ly = spec.legend.y - t;
      const lw = 205.5;
      const lh = 127;
      ctx.fillStyle = '#ffffff';
      ctx.fillRect(lx, ly, lw, lh);
      ctx.strokeStyle = INK;
      ctx.lineWidth = 2.5;
      ctx.strokeRect(lx, ly, lw, lh);
      const rows = [ly + 22, ly + 60.5, ly + 98.5];
      const x0 = lx + 15;
      const x1 = lx + 77;
      const cx = (x0 + x1) / 2;
      ctx.lineCap = 'round';
      ctx.lineWidth = 4.5;
      ctx.strokeStyle = D_COLOR;
      ctx.beginPath(); ctx.moveTo(x0, rows[0]); ctx.lineTo(x1, rows[0]); ctx.stroke();
      ctx.strokeStyle = LEG_A;
      ctx.beginPath(); ctx.moveTo(x0, rows[1]); ctx.lineTo(x1, rows[1]); ctx.stroke();
      ctx.fillStyle = '#ffffff';
      ctx.lineWidth = 2.5;
      ctx.fillRect(cx - 11, rows[1] - 11, 22, 22);
      ctx.strokeRect(cx - 11, rows[1] - 11, 22, 22);
      ctx.lineWidth = 4.5;
      ctx.strokeStyle = LEG_H;
      ctx.beginPath(); ctx.moveTo(x0, rows[2]); ctx.lineTo(x1, rows[2]); ctx.stroke();
      ctx.lineWidth = 2.5;
      ctx.lineCap = 'butt';
      ctx.beginPath();
      ctx.moveTo(cx, rows[2] - 14);
      ctx.lineTo(cx + 17, rows[2] + 16);
      ctx.lineTo(cx - 17, rows[2] + 16);
      ctx.closePath();
      ctx.fill();
      ctx.stroke();
      const tx = lx + 100;
      drawSubText(ctx, tx, rows[0] + 8, 'd', 'err', '/cm');
      drawSubText(ctx, tx, rows[1] + 8, '\u03b1', 'err', '/\u00b0');
      drawSubText(ctx, tx, rows[2] + 8, 'h', 'err', '/\u00b0');
      ctx.restore();
    },
    afterDraw(chart: any) {
      const { ctx, chartArea, scales } = chart;
      const xs = scales.x;
      ctx.save();
      ctx.fillStyle = INK;
      ctx.font = `italic 37px ${SERIF}`;
      ctx.textAlign = 'right';
      ctx.textBaseline = 'alphabetic';
      ctx.fillText(X_UNIT, 1131, chartArea.bottom + 65);

      if (spec.arrows) {
        const ay = 39;
        ctx.strokeStyle = INK;
        ctx.fillStyle = INK;
        ctx.lineWidth = 5;
        ctx.lineCap = 'round';
        const pts = [PHASE_ARROW_START, ...PHASE_BOUNDARIES, PHASE_ARROW_END];
        for (let i = 0; i < pts.length - 1; i++) {
          const a = xs.getPixelForValue(pts[i]);
          const b = xs.getPixelForValue(pts[i + 1]);
          const hasLeft = i > 0;
          const hasRight = i < pts.length - 2;
          ctx.beginPath();
          ctx.moveTo(hasLeft ? a + 10 : a, ay);
          ctx.lineTo(hasRight ? b - 10 : b, ay);
          ctx.stroke();
          if (hasLeft) drawArrowHead(ctx, a + 1, ay, -1);
          if (hasRight) drawArrowHead(ctx, b - 1, ay, 1);
        }
        ctx.font = `22px ${SANS}`;
        ctx.textAlign = 'center';
        ctx.textBaseline = 'middle';
        PHASE_LABELS.forEach((lab, i) => {
          ctx.fillText(lab, xs.getPixelForValue(PHASE_LABEL_X[i]), 19);
        });
      }
      ctx.restore();
    },
  };
}

function Panel({ spec }: { spec: PanelSpec }) {
  const ref = useRef<HTMLCanvasElement | null>(null);
  useEffect(() => {
    const canvas = ref.current;
    if (!canvas) return;
    const padTop = spec.areaTop - spec.top;
    const padBottom = spec.top + spec.height - spec.areaBottom;
    const chart = new Chart(canvas, {
      type: 'line',
      data: {
        datasets: [
          {
            label: 'd_err/cm',
            data: toXY(spec.d),
            borderColor: D_COLOR,
            borderWidth: 4,
            pointRadius: 0,
            tension: 0.3,
            cubicInterpolationMode: 'monotone',
            order: 3,
            clip: 4,
          },
          {
            label: 'h_err/deg',
            data: toXY(spec.h),
            borderColor: H_COLOR,
            borderWidth: 2.3,
            pointStyle: 'triangle',
            pointRadius: spec.hRadius,
            pointBorderColor: H_COLOR,
            pointBackgroundColor: 'rgba(255,255,255,0)',
            pointBorderWidth: spec.hBorder,
            tension: 0,
            order: 2,
            clip: 6,
          },
          {
            label: 'alpha_err/deg',
            data: toXY(spec.a),
            borderColor: A_COLOR,
            borderWidth: 2.3,
            pointStyle: 'rect',
            pointRadius: 4.8,
            pointBorderColor: A_MARK,
            pointBackgroundColor: 'rgba(255,255,255,0)',
            pointBorderWidth: 1.5,
            tension: 0,
            order: 1,
            clip: { left: 4, right: 4, top: 4, bottom: 4 },
          },
        ],
      } as any,
      options: {
        responsive: false,
        animation: false,
        devicePixelRatio: 1,
        events: [],
        layout: { padding: { left: AREA_LEFT, right: PAGE_W - AREA_RIGHT, top: padTop, bottom: padBottom } },
        plugins: { legend: { display: false }, tooltip: { enabled: false }, title: { display: false } },
        scales: {
          x: {
            type: 'linear',
            min: X_MIN,
            max: X_MAX,
            position: { y: 0 } as any,
            afterFit: (s: any) => {
              s.paddingLeft = 0;
              s.paddingRight = 0;
            },
            ticks: { stepSize: X_STEP, color: INK, font: { family: AXIS_FONT, size: 22 }, padding: 13, maxRotation: 0 },
            grid: { drawOnChartArea: false, drawTicks: true, tickLength: 8, color: '#000', lineWidth: 2 },
            border: { display: true, color: '#000', width: 2 },
          },
          y: {
            type: 'linear',
            min: Y_MIN,
            max: Y_MAX,
            position: { x: 0 } as any,
            afterFit: (s: any) => {
              s.paddingTop = 0;
              s.paddingBottom = 0;
            },
            ticks: {
              stepSize: Y_STEP,
              color: INK,
              font: { family: AXIS_FONT, size: 22 },
              padding: 8,
              callback: (v: number) => `${v}${Y_LABEL_GAP}`,
            },
            grid: { color: '#000', lineWidth: 2, drawTicks: true, tickLength: 6 },
            border: { display: true, color: '#000', width: 2 },
          },
        },
      } as any,
      plugins: [makeDecorPlugin(spec)],
    });
    return () => chart.destroy();
  }, [spec]);
  return (
    <canvas
      ref={ref}
      width={PAGE_W}
      height={spec.height}
      style={{ position: 'absolute', left: 0, top: spec.top, width: PAGE_W, height: spec.height }}
    />
  );
}

const PANELS: PanelSpec[] = [
  {
    top: 0, height: 562, areaTop: 69.5, areaBottom: 483, grayTop: 21,
    title: PANEL_TITLES[0], titleBox: { x: 39, y: 83, w: 374, h: 55 }, legend: { x: 765.5, y: 78 },
    arrows: true, d: regD, a: regA, h: regHX.map((x) => [x, REG_H_LEVEL] as P), hRadius: 4.6, hBorder: 2,
  },
  {
    top: 540, height: 556, areaTop: 601.6, areaBottom: 1016.5, grayTop: 550,
    title: PANEL_TITLES[1], titleBox: { x: 41.5, y: 615, w: 229, h: 56 }, legend: { x: 703, y: 605 },
    arrows: false, d: pureD, a: pureA, h: pureH, hRadius: 4.8, hBorder: 1.4,
  },
  {
    top: 1080, height: 547, areaTop: 1138, areaBottom: 1551.8, grayTop: 1084,
    title: PANEL_TITLES[2], titleBox: { x: 39.4, y: 1157, w: 265.6, h: 55 }, legend: { x: 703, y: 1145 },
    arrows: false, d: aheadD, a: aheadA, h: aheadH, hRadius: 4.8, hBorder: 1.4,
  },
];

export default function App() {
  return (
    <div style={{ position: 'absolute', left: 0, top: 0, width: PAGE_W, height: 1627, background: '#ffffff', overflow: 'hidden' }}>
      {PANELS.map((p, i) => (
        <Panel key={i} spec={p} />
      ))}
    </div>
  );
}
